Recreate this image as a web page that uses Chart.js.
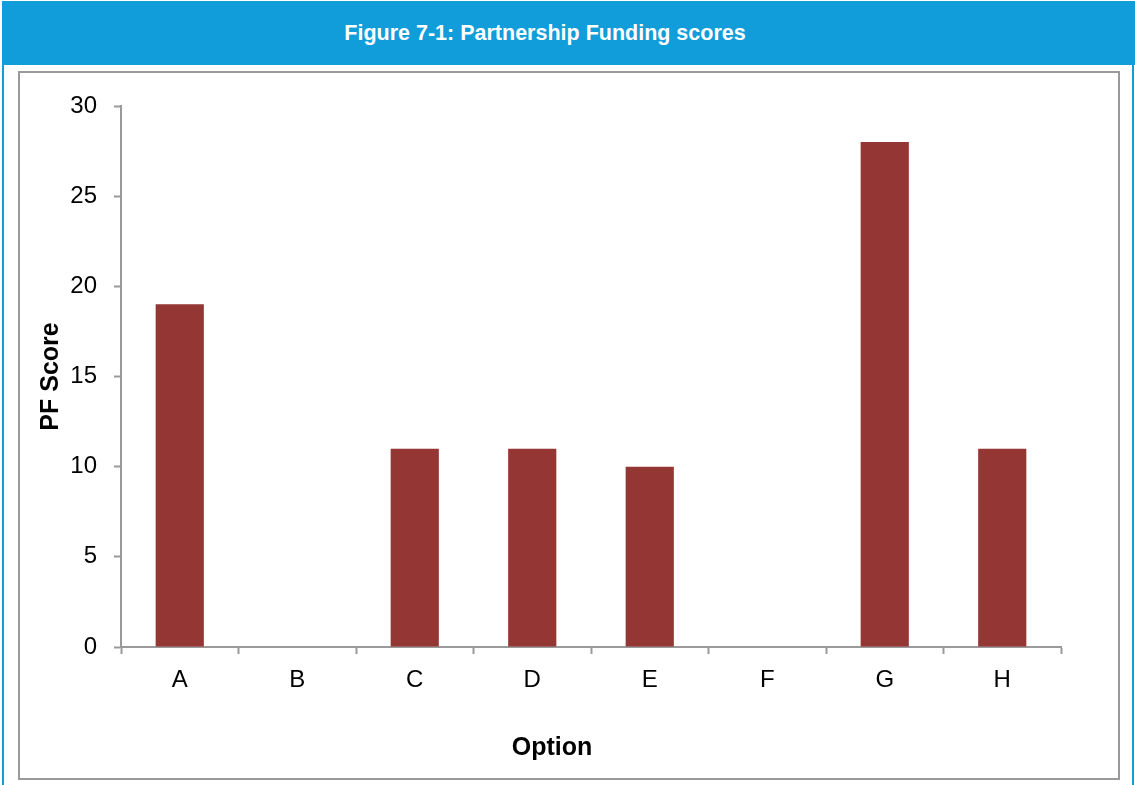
<!DOCTYPE html>
<html>
<head>
<meta charset="utf-8">
<title>Partnership Funding scores</title>
<script src="https://cdn.jsdelivr.net/npm/chart.js@4.4.1/dist/chart.umd.min.js"></script>
<style>
  body { margin: 0; background: #ffffff; font-family: "Liberation Sans", Arial, sans-serif; }
  #page { position: relative; width: 1135px; height: 785px; overflow: hidden; }
  #header {
    position: absolute; left: 2px; top: 1px; width: 1133px; height: 64px;
    background: #109dd9;
  }
  #header span {
    position: absolute; left: 0; width: 1086px; top: 20px;
    text-align: center; color: #ffffff; font-weight: bold; font-size: 21.5px;
  }
  .edge { position: absolute; top: 65px; width: 2px; height: 720px; background: #109dd9; }
  #frame {
    position: absolute; left: 18px; top: 71px; width: 1102px; height: 709px;
    border: 2px solid #9a9a9a; box-sizing: border-box;
  }
  #box { position: absolute; left: 20px; top: 73px; width: 1098px; height: 705px; }
</style>
</head>
<body>
<div id="page">
  <div id="header"><span>Figure 7-1: Partnership Funding scores</span></div>
  <div class="edge" style="left: 2px;"></div>
  <div class="edge" style="left: 1132px;"></div>
  <div id="frame"></div>
  <div id="box"><canvas id="myChart"></canvas></div>
</div>
<script>
// PF scores per option
let xValues = ["A", "B", "C", "D", "E", "F", "G", "H"];
let yValues = [19, 0, 11, 11, 10, 0, 28, 11];
let yTicks = [0, 5, 10, 15, 20, 25, 30];
let xTitle = "Option";
let yTitle = "PF Score";
let barColor = "#943634";
let axisGrey = "#9a9a9a";
let fontFamily = "'Liberation Sans', Arial, sans-serif";

// x axis title sits a little left of the plot centre, so draw it by hand
const xTitlePlugin = {
    id: "xTitle",
    afterDraw(chart) {
        const ctx = chart.ctx;
        ctx.save();
        ctx.font = "bold 25px " + fontFamily;
        ctx.fillStyle = "#000000";
        ctx.textAlign = "center";
        ctx.textBaseline = "middle";
        ctx.fillText(xTitle, chart.width * 0.4845, chart.scales.x.bottom - 30);
        ctx.restore();
    }
};

new Chart("myChart", {
    type: "bar",
    data: {
        labels: xValues,
        datasets: [{
            backgroundColor: barColor,
            data: yValues,
            categoryPercentage: 1,
            barPercentage: 0.41
        }]
    },
    options: {
        responsive: true,
        maintainAspectRatio: false,
        animation: false,
        layout: { padding: { top: 33, right: 57, left: 0, bottom: 0 } },
        plugins: {
            legend: { display: false },
            tooltip: { enabled: false }
        },
        scales: {
            x: {
                offset: true,
                grid: {
                    offset: true,
                    drawOnChartArea: false,
                    tickLength: 7,
                    tickColor: axisGrey,
                    tickWidth: 2
                },
                border: { color: axisGrey, width: 2 },
                ticks: {
                    color: "#000000",
                    padding: 12,
                    font: { family: fontFamily, size: 24 }
                },
                afterFit: function (scale) { scale.height = 131; }
            },
            y: {
                min: 0,
                max: 30,
                afterBuildTicks: function (scale) {
                    scale.ticks = yTicks.map(function (v) { return { value: v }; });
                },
                grid: {
                    drawOnChartArea: false,
                    tickLength: 7,
                    tickColor: axisGrey,
                    tickWidth: 2
                },
                border: { color: axisGrey, width: 2 },
                ticks: {
                    color: "#000000",
                    padding: 17,
                    font: { family: fontFamily, size: 24 }
                },
                title: {
                    display: true,
                    text: yTitle,
                    color: "#000000",
                    padding: { top: 16, bottom: 0 },
                    font: { family: fontFamily, size: 25, weight: "bold" }
                },
                afterFit: function (scale) { scale.width = 101; }
            }
        }
    },
    plugins: [xTitlePlugin]
});
</script>
</body>
</html>
